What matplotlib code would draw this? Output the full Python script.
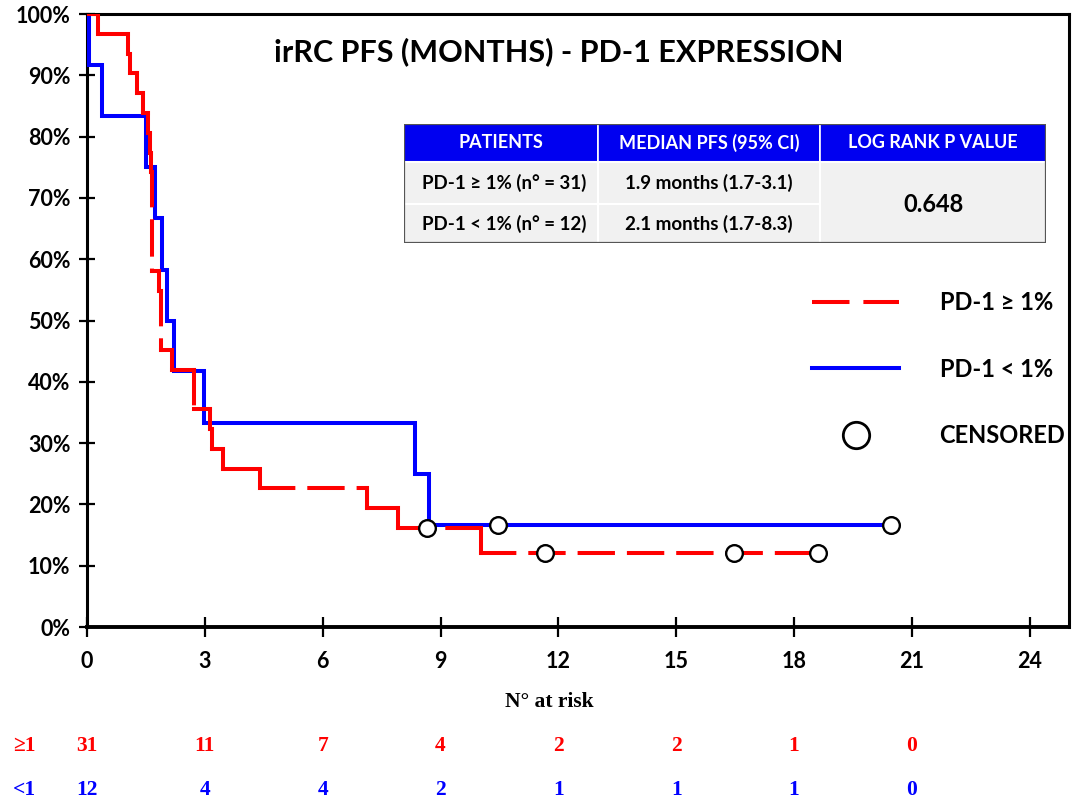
import numpy as np
import matplotlib
matplotlib.use("Agg")
import matplotlib.pyplot as plt
from matplotlib.lines import Line2D
from matplotlib.patches import Rectangle
from matplotlib.transforms import blended_transform_factory

plt.rcParams["font.family"] = ["Lato", "DejaVu Sans"]
plt.rcParams["font.weight"] = "bold"
plt.rcParams["lines.scale_dashes"] = False

# --- data --------------------------------------------------------------------
# PD-1 >= 1% (n=31): step times (months) and survival (%)
red_t = [0, 0.29, 1.05, 1.09, 1.28, 1.43, 1.56, 1.60, 1.63, 1.66, 1.83, 1.89,
         2.16, 2.72, 3.13, 3.17, 3.46, 4.40, 7.12, 7.91, 10.03, 18.62]
red_s = [100, 96.8, 93.5, 90.3, 87.1, 83.9, 80.6, 77.4, 74.2, 58.1, 54.8, 45.2,
         41.9, 35.5, 32.3, 29.0, 25.8, 22.6, 19.4, 16.1, 12.1, 12.1]
red_cens_t = [8.65, 11.65, 16.48, 18.62]
red_cens_s = [16.1, 12.1, 12.1, 12.1]

# PD-1 < 1% (n=12)
blue_t = [0, 0.05, 0.37, 1.50, 1.73, 1.90, 2.03, 2.22, 2.98, 8.35, 8.71, 20.46]
blue_s = [100, 91.7, 83.3, 75.0, 66.7, 58.3, 50.0, 41.7, 33.3, 25.0, 16.7, 16.7]
blue_cens_t = [10.46, 20.46]
blue_cens_s = [16.7, 16.7]

x_ticks = [0, 3, 6, 9, 12, 15, 18, 21, 24]
y_ticks = [0, 10, 20, 30, 40, 50, 60, 70, 80, 90, 100]

risk_times = [0, 3, 6, 9, 12, 15, 18, 21]
risk_hi = [31, 11, 7, 4, 2, 2, 1, 0]
risk_lo = [12, 4, 4, 2, 1, 1, 1, 0]

table_header = ["PATIENTS", "MEDIAN PFS (95% CI)", "LOG RANK P VALUE"]
table_groups = ["PD-1 ≥ 1% (n° = 31)", "PD-1 < 1% (n° = 12)"]
table_medians = ["1.9 months (1.7-3.1)", "2.1 months (1.7-8.3)"]
p_value = "0.648"

RED = "#ff0000"
BLUE = "#0000ff"
W, H = 1076, 805

fig = plt.figure(figsize=(W / 100, H / 100), dpi=100)
ax = fig.add_axes([87 / W, 1 - 627 / H, (1069 - 87) / W, (627 - 14) / H])

ax.step(blue_t, blue_s, where="post", color=BLUE, lw=2.9, zorder=3,
        solid_joinstyle="miter")

# red curve: every horizontal/vertical piece is drawn on its own so the dash
# pattern restarts at each corner, like in the original
for i in range(len(red_t) - 1):
    ax.plot([red_t[i], red_t[i + 1]], [red_s[i], red_s[i]], color=RED,
            lw=2.9, dashes=(24, 11.5), dash_capstyle="projecting", zorder=4)
    if red_s[i + 1] != red_s[i]:
        ax.plot([red_t[i + 1], red_t[i + 1]], [red_s[i], red_s[i + 1]],
                color=RED, lw=2.9, dashes=(24, 11.5),
                dash_capstyle="projecting", zorder=4)

cens_style = dict(ls="none", marker="o", ms=12, mfc="white", mec="black",
                  mew=1.7, zorder=6)
ax.plot(red_cens_t, red_cens_s, **cens_style)
ax.plot(blue_cens_t, blue_cens_s, **cens_style)

ax.set_xlim(0, 25)
ax.set_ylim(0, 100)
ax.set_xticks(x_ticks)
ax.set_xticklabels([f"{v}" for v in x_ticks])
ax.set_yticks(y_ticks)
ax.set_yticklabels([f"{v}%" for v in y_ticks])
ax.tick_params(axis="x", direction="inout", length=14, width=1.6, pad=10,
               labelsize=15.5)
ax.tick_params(axis="y", direction="inout", length=12, width=1.6, pad=6,
               labelsize=15.5)
for s in ax.spines.values():
    s.set_linewidth(2.2)
ax.spines["bottom"].set_linewidth(2.8)

ax.set_title("irRC PFS (MONTHS) - PD-1 EXPRESSION", x=0.48, y=0.91,
             fontsize=22, fontweight="bold")

# legend
handles = [
    Line2D([], [], color=RED, lw=2.9, dashes=(27, 10)),
    Line2D([], [], color=BLUE, lw=2.9),
    Line2D([], [], ls="none", marker="o", ms=19, mfc="white", mec="black",
           mew=2),
]
ax.legend(handles, ["PD-1 ≥ 1%", "PD-1 < 1%", "CENSORED"], frameon=False,
          loc="upper left", bbox_to_anchor=(812 / W, 1 - 291 / H),
          bbox_transform=fig.transFigure, prop={"size": 17, "weight": "bold"},
          handlelength=3.7, handletextpad=1.7, labelspacing=1.85,
          borderpad=0, borderaxespad=0)

# summary table
tax = fig.add_axes([404 / W, 1 - 243 / H, 642 / W, 119 / H])
tax.set_xlim(0, 642)
tax.set_ylim(119, 0)
tax.axis("off")
col_edges = [0, 194, 416, 642]
row_edges = [0, 38, 80, 119]
for i in range(3):
    x0, x1 = col_edges[i], col_edges[i + 1]
    tax.add_patch(Rectangle((x0, 0), x1 - x0, 38, fc="#0000f0", ec="white",
                            lw=1.2))
    tax.text((x0 + x1) / 2, 19, table_header[i], color="white", ha="center",
             va="center", fontsize=13, fontweight="bold")
for r in range(2):
    y0, y1 = row_edges[r + 1], row_edges[r + 2]
    for c in range(2):
        x0, x1 = col_edges[c], col_edges[c + 1]
        tax.add_patch(Rectangle((x0, y0), x1 - x0, y1 - y0, fc="#f1f1f1",
                                ec="white", lw=1.5))
    tax.text((col_edges[0] + col_edges[1]) / 2 + 3, (y0 + y1) / 2,
             table_groups[r], ha="center", va="center", fontsize=13.5,
             fontweight="bold")
    tax.text((col_edges[1] + col_edges[2]) / 2, (y0 + y1) / 2,
             table_medians[r], ha="center", va="center", fontsize=13.5,
             fontweight="bold")
tax.add_patch(Rectangle((col_edges[2], 38), col_edges[3] - col_edges[2], 81,
                        fc="#f1f1f1", ec="white", lw=1.5))
tax.text((col_edges[2] + col_edges[3]) / 2, (38 + 119) / 2 + 2, p_value,
         ha="center", va="center", fontsize=17, fontweight="bold")
tax.add_patch(Rectangle((0, 0), 642, 119, fc="none", ec="#555555", lw=1.6))

# number at risk
tr = blended_transform_factory(ax.transData, fig.transFigure)
serif = {"family": "Liberation Serif", "weight": "bold", "size": 15.5}
fig.text(549 / W, 1 - 702 / H, "N° at risk", ha="center", va="center",
         fontdict=serif)
fig.text(24 / W, 1 - 746 / H, "≥1", ha="center", va="center", color=RED,
         fontdict=serif)
fig.text(24 / W, 1 - 790 / H, "<1", ha="center", va="center", color=BLUE,
         fontdict=serif)
for t, a, b in zip(risk_times, risk_hi, risk_lo):
    ax.text(t, 1 - 746 / H, str(a), transform=tr, ha="center", va="center",
            color=RED, fontdict=serif)
    ax.text(t, 1 - 790 / H, str(b), transform=tr, ha="center", va="center",
            color=BLUE, fontdict=serif)

fig.savefig("out.png", dpi=100)
